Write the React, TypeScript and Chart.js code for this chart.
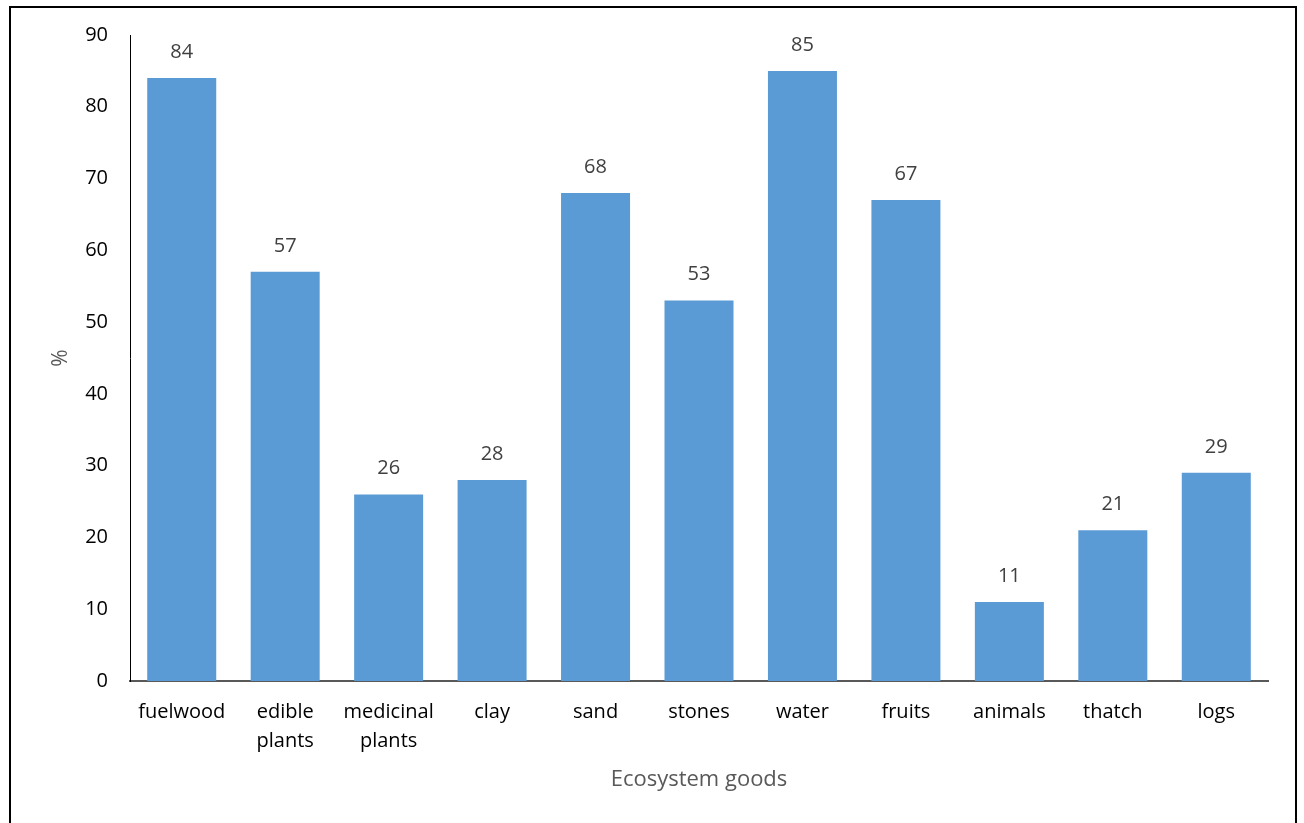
import React, { useEffect, useRef } from "react";
import { Chart, registerables } from "chart.js";

Chart.register(...registerables);

const categories: (string | string[])[] = [
  "fuelwood",
  ["edible", "plants"],
  ["medicinal", "plants"],
  "clay",
  "sand",
  "stones",
  "water",
  "fruits",
  "animals",
  "thatch",
  "logs",
];
const values: number[] = [84, 57, 26, 28, 68, 53, 85, 67, 11, 21, 29];
const yTicks: number[] = [0, 10, 20, 30, 40, 50, 60, 70, 80, 90];
const xTitle = "Ecosystem goods";
const yTitle = "%";

const FONT = "'Open Sans', sans-serif";

const valueLabels = {
  id: "valueLabels",
  afterDatasetsDraw(chart: any) {
    const { ctx } = chart;
    const meta = chart.getDatasetMeta(0);
    ctx.save();
    ctx.font = `20px ${FONT}`;
    ctx.fillStyle = "#404040";
    ctx.textAlign = "center";
    ctx.textBaseline = "middle";
    meta.data.forEach((bar: any, i: number) => {
      ctx.fillText(String(values[i]), bar.x, bar.y - 26);
    });
    ctx.restore();
  },
};

export default function App() {
  const canvasRef = useRef<HTMLCanvasElement | null>(null);

  useEffect(() => {
    if (!canvasRef.current) return;
    const chart = new Chart(canvasRef.current, {
      type: "bar",
      data: {
        labels: categories,
        datasets: [
          {
            data: values,
            backgroundColor: "#5B9BD5",
            borderWidth: 0,
            categoryPercentage: 1,
            barPercentage: 0.667,
          },
        ],
      },
      options: {
        animation: false,
        responsive: false,
        devicePixelRatio: 1,
        layout: { padding: { left: 0, right: 36, top: 35, bottom: 0 } },
        plugins: {
          legend: { display: false },
          tooltip: { enabled: false },
        },
        scales: {
          x: {
            grid: { display: false, drawTicks: false },
            border: { display: true, color: "#595959", width: 2 },
            ticks: {
              color: "#000000",
              font: { family: FONT, size: 20, lineHeight: 1.45 },
              padding: 17,
              maxRotation: 0,
              autoSkip: false,
            },
            title: {
              display: true,
              text: xTitle,
              color: "#595959",
              font: { family: FONT, size: 22 },
              padding: { top: 0, bottom: 30 },
            },
            afterFit: (scale: any) => {
              scale.height = 142;
            },
          },
          y: {
            min: 0,
            max: 90,
            afterBuildTicks: (scale: any) => {
              scale.ticks = yTicks.map((v) => ({ value: v }));
            },
            grid: { display: false, drawTicks: false },
            border: { display: true, color: "#000000", width: 1 },
            ticks: {
              color: "#000000",
              font: { family: FONT, size: 20 },
              padding: 22,
            },
            title: {
              display: true,
              text: yTitle,
              color: "#595959",
              font: { family: FONT, size: 21 },
              padding: { top: 48, bottom: 0 },
            },
            afterFit: (scale: any) => {
              scale.width = 130;
            },
          },
        },
      },
      plugins: [valueLabels],
    });
    return () => chart.destroy();
  }, []);

  return (
    <div style={{ position: "fixed", left: 0, top: 0, width: 1304, height: 823, background: "#fff", overflow: "hidden" }}>
      <div
        style={{
          position: "absolute",
          left: 9,
          top: 6,
          width: 1288,
          height: 830,
          border: "2px solid #000",
          boxSizing: "border-box",
        }}
      />
      <canvas
        ref={canvasRef}
        width={1304}
        height={823}
        style={{ position: "absolute", left: 0, top: 0, display: "block" }}
      />
    </div>
  );
}
